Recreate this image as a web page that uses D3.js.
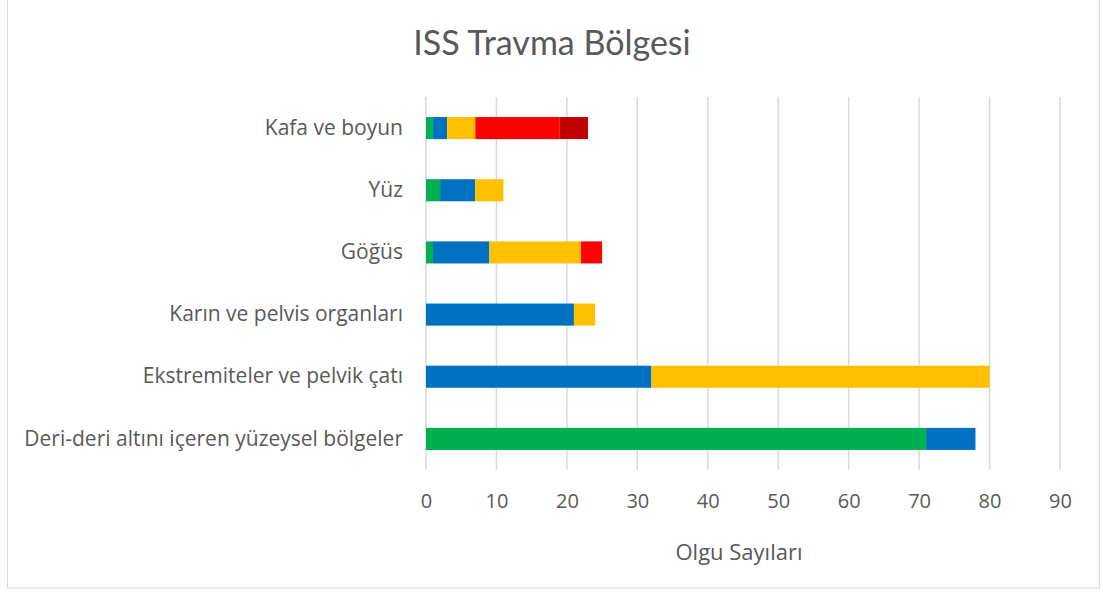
<!DOCTYPE html>
<html>
<head>
<meta charset="utf-8">
<script src="https://cdn.jsdelivr.net/npm/d3@7"></script>
<style>
  body { margin: 0; background: #fff; }
  text { font-family: "Open Sans", Lato, sans-serif; fill: #595959; }
</style>
</head>
<body>
<div id="chart"></div>
<script>
// categories, top to bottom
var categories = ["Kafa ve boyun", "Yüz", "Göğüs", "Karın ve pelvis organları",
  "Ekstremiteler ve pelvik çatı", "Deri-deri altını içeren yüzeysel bölgeler"]
// AIS severity series (stacked in this order)
var seriesNames = ["1", "2", "3", "4", "5"]
var ais1 = [1, 2, 1, 0, 0, 71]
var ais2 = [2, 5, 8, 21, 32, 7]
var ais3 = [4, 4, 13, 3, 48, 0]
var ais4 = [12, 0, 3, 0, 0, 0]
var ais5 = [4, 0, 0, 0, 0, 0]
var seriesColors = ["#00B050", "#0070C0", "#FFC000", "#FF0000", "#C00000"]
var xTicks = [0, 10, 20, 30, 40, 50, 60, 70, 80, 90]

var width = 1103, height = 594
var margin = { top: 97, right: 43, bottom: 124, left: 426 }

var rows = categories.map(function (c, i) {
  return { cat: c, "1": ais1[i], "2": ais2[i], "3": ais3[i], "4": ais4[i], "5": ais5[i] }
})
var stacked = d3.stack().keys(seriesNames)(rows)

var svg = d3.select("#chart").append("svg")
  .attr("width", width)
  .attr("height", height)

// chart frame
svg.append("rect")
  .attr("x", 7.5).attr("y", -5)
  .attr("width", 1092).attr("height", 593)
  .attr("fill", "#fff")
  .attr("stroke", "#d9d9d9")
  .attr("stroke-width", 1)

var x = d3.scaleLinear()
  .domain([0, 90])
  .range([margin.left, width - margin.right])

var y = d3.scaleBand()
  .domain(categories)
  .range([margin.top, height - margin.bottom])
  .paddingInner(0.645)
  .paddingOuter(0.3225)

// gridlines
svg.append("g")
  .selectAll("line")
  .data(xTicks)
  .enter().append("line")
  .attr("x1", function (d) { return x(d) }).attr("x2", function (d) { return x(d) })
  .attr("y1", margin.top).attr("y2", height - margin.bottom)
  .attr("stroke", "#d9d9d9")
  .attr("stroke-width", 1.5)

// bars
svg.append("g")
  .selectAll("g")
  .data(stacked)
  .enter().append("g")
  .attr("fill", function (d, i) { return seriesColors[i] })
  .selectAll("rect")
  .data(function (d) { return d })
  .enter().append("rect")
  .attr("x", function (d) { return x(d[0]) })
  .attr("y", function (d) { return y(d.data.cat) })
  .attr("width", function (d) { return x(d[1]) - x(d[0]) })
  .attr("height", y.bandwidth())

// x axis labels
var xAxis = svg.append("g")
  .attr("transform", "translate(0," + (height - margin.bottom) + ")")
  .call(d3.axisBottom(x).tickValues(xTicks).tickSize(0).tickPadding(24))
xAxis.select(".domain").remove()
xAxis.selectAll("text")
  .style("font-size", "20px")
  .attr("fill", "#595959")

// y axis labels
var yAxis = svg.append("g")
  .attr("transform", "translate(" + margin.left + ",0)")
  .call(d3.axisLeft(y).tickSize(0).tickPadding(23))
yAxis.select(".domain").remove()
yAxis.selectAll("text")
  .style("font-size", "21px")
  .attr("fill", "#595959")

// title
svg.append("text")
  .attr("x", 552).attr("y", 55)
  .attr("text-anchor", "middle")
  .style("font-size", "34px")
  .style("font-family", "Lato, sans-serif")
  .text("ISS Travma Bölgesi")

// axis title
svg.append("text")
  .attr("x", 739).attr("y", 560)
  .attr("text-anchor", "middle")
  .style("font-size", "22px")
  .text("Olgu Sayıları")
</script>
</body>
</html>
